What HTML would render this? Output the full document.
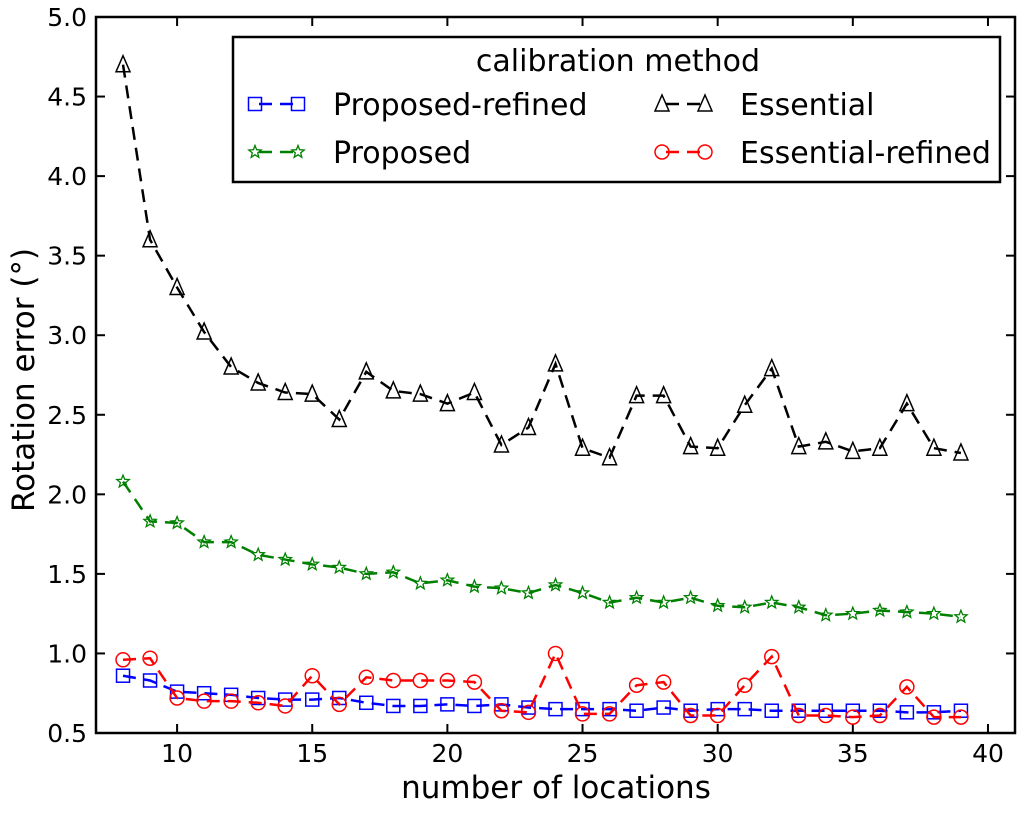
<!DOCTYPE html>
<html><head><meta charset="utf-8"><style>
body{margin:0;background:#fff}
svg text{font-family:"DejaVu Sans","Liberation Sans",sans-serif}
</style></head><body>
<svg id="chart" width="1024" height="809" xmlns="http://www.w3.org/2000/svg">
<g id="axes"></g><g id="series"></g><g id="legend"></g>
</svg>
<script>
const xValues=[8,9,10,11,12,13,14,15,16,17,18,19,20,21,22,23,24,25,26,27,28,29,30,31,32,33,34,35,36,37,38,39];
const essential=[4.70,3.60,3.30,3.02,2.80,2.70,2.64,2.63,2.47,2.77,2.65,2.63,2.57,2.64,2.31,2.42,2.82,2.29,2.23,2.62,2.62,2.30,2.29,2.56,2.79,2.30,2.33,2.27,2.29,2.57,2.29,2.26];
const proposed=[2.08,1.83,1.82,1.70,1.70,1.62,1.59,1.56,1.54,1.50,1.51,1.44,1.46,1.42,1.41,1.38,1.43,1.38,1.32,1.35,1.32,1.35,1.30,1.29,1.32,1.29,1.24,1.25,1.27,1.26,1.25,1.23];
const proposedRefined=[0.86,0.83,0.76,0.75,0.74,0.72,0.71,0.71,0.72,0.69,0.67,0.67,0.68,0.67,0.68,0.66,0.65,0.65,0.65,0.64,0.66,0.64,0.65,0.65,0.64,0.64,0.64,0.64,0.64,0.63,0.63,0.64];
const essentialRefined=[0.96,0.97,0.72,0.70,0.70,0.69,0.67,0.86,0.68,0.85,0.83,0.83,0.83,0.82,0.64,0.63,1.00,0.62,0.62,0.80,0.82,0.61,0.61,0.80,0.98,0.61,0.61,0.60,0.61,0.79,0.60,0.60];
const xTicks=[10,15,20,25,30,35,40];
const yTicks=[0.5,1.0,1.5,2.0,2.5,3.0,3.5,4.0,4.5,5.0];
const yTickLabels=["0.5","1.0","1.5","2.0","2.5","3.0","3.5","4.0","4.5","5.0"];

const NS="http://www.w3.org/2000/svg";
const L=96,R=1015,T=17,B=733;
const xs=v=>L+(v-7)*(R-L)/34;
const ys=v=>B-(v-0.5)*(B-T)/4.5;
function mk(tag,attrs,parent){const e=document.createElementNS(NS,tag);for(const k in attrs)e.setAttribute(k,attrs[k]);parent.appendChild(e);return e;}
const axes=document.getElementById('axes'),ser=document.getElementById('series'),leg=document.getElementById('legend');

const frame=mk('rect',{x:L,y:T,width:R-L,height:B-T,fill:'none',stroke:'#000','stroke-width':2.5},axes);


xTicks.forEach(t=>{
 const x=xs(t);
 mk('line',{x1:x,x2:x,y1:B,y2:B-9,stroke:'#000','stroke-width':2},axes);
 mk('line',{x1:x,x2:x,y1:T,y2:T+9,stroke:'#000','stroke-width':2},axes);
 const tx=mk('text',{x:x,y:B+29,'font-size':25,'text-anchor':'middle'},axes);tx.textContent=t;
 
 
});
yTicks.forEach((t,i)=>{
 const y=ys(t);
 mk('line',{x1:L,x2:L+9,y1:y,y2:y,stroke:'#000','stroke-width':2},axes);
 mk('line',{x1:R,x2:R-9,y1:y,y2:y,stroke:'#000','stroke-width':2},axes);
 const tx=mk('text',{x:L-9,y:y+9,'font-size':25,'text-anchor':'end'},axes);tx.textContent=yTickLabels[i];
 
 
});
const xl=mk('text',{x:556,y:798,'font-size':31,'text-anchor':'middle'},axes);xl.textContent='number of locations';


const yl=mk('text',{x:34,y:380,'font-size':31,'text-anchor':'middle',transform:'rotate(-90 34 380)'},axes);yl.textContent='Rotation error (°)';



function marker(type,x,y,color,g){
 if(type==='sq')return mk('rect',{x:x-6.5,y:y-6.5,width:13,height:13,fill:'none',stroke:color,'stroke-width':1.5},g);
 if(type==='ci')return mk('circle',{cx:x,cy:y,r:7,fill:'none',stroke:color,'stroke-width':1.5},g);
 if(type==='tr')return mk('polygon',{points:`${x},${y-9} ${x-7},${y+7} ${x+7},${y+7}`,fill:'none',stroke:color,'stroke-width':1.5},g);
 let p=[];for(let i=0;i<10;i++){const r=i%2?2.8:6.5,a=-Math.PI/2+i*Math.PI/5;p.push((x+r*Math.cos(a)).toFixed(1)+','+(y+r*Math.sin(a)).toFixed(1));}
 return mk('polygon',{points:p.join(' '),fill:'none',stroke:color,'stroke-width':1.3},g);
}
function series(vals,color,type,name){
 const g=mk('g',{},ser);
 
 
 const pts=vals.map((v,i)=>xs(xValues[i])+','+ys(v)).join(' ');
 mk('polyline',{points:pts,fill:'none',stroke:color,'stroke-width':2.5,'stroke-dasharray':'13,8'},g);
 vals.forEach((v,i)=>{const m=marker(type,xs(xValues[i]),ys(v),color,g);
  
  });
}
series(essential,'#000','tr','essential-series');
series(proposed,'#008000','st','proposed-series');
series(proposedRefined,'#0000ff','sq','proposed-refined-series');
series(essentialRefined,'#ff0000','ci','essential-refined-series');

const box=mk('rect',{x:233,y:37,width:767,height:145,fill:'#fff',stroke:'#000','stroke-width':2.5},leg);


const lt=mk('text',{x:618,y:71,'font-size':30,'text-anchor':'middle'},leg);lt.textContent='calibration method';


[[255,104,'#0000ff','sq','Proposed-refined'],[662,104,'#000','tr','Essential'],[255,152,'#008000','st','Proposed'],[662,152,'#ff0000','ci','Essential-refined']].forEach(e=>{
 const g=mk('g',{},leg);
 
 
 mk('line',{x1:e[0],x2:e[0]+43,y1:e[1],y2:e[1],stroke:e[2],'stroke-width':2.5,'stroke-dasharray':'13,8','stroke-dashoffset':-4},g);
 marker(e[3],e[0],e[1],e[2],g);marker(e[3],e[0]+43,e[1],e[2],g);
 const t=mk('text',{x:e[0]+78,y:e[1]+11,'font-size':30},g);t.textContent=e[4];
});
</script>
</body></html>
